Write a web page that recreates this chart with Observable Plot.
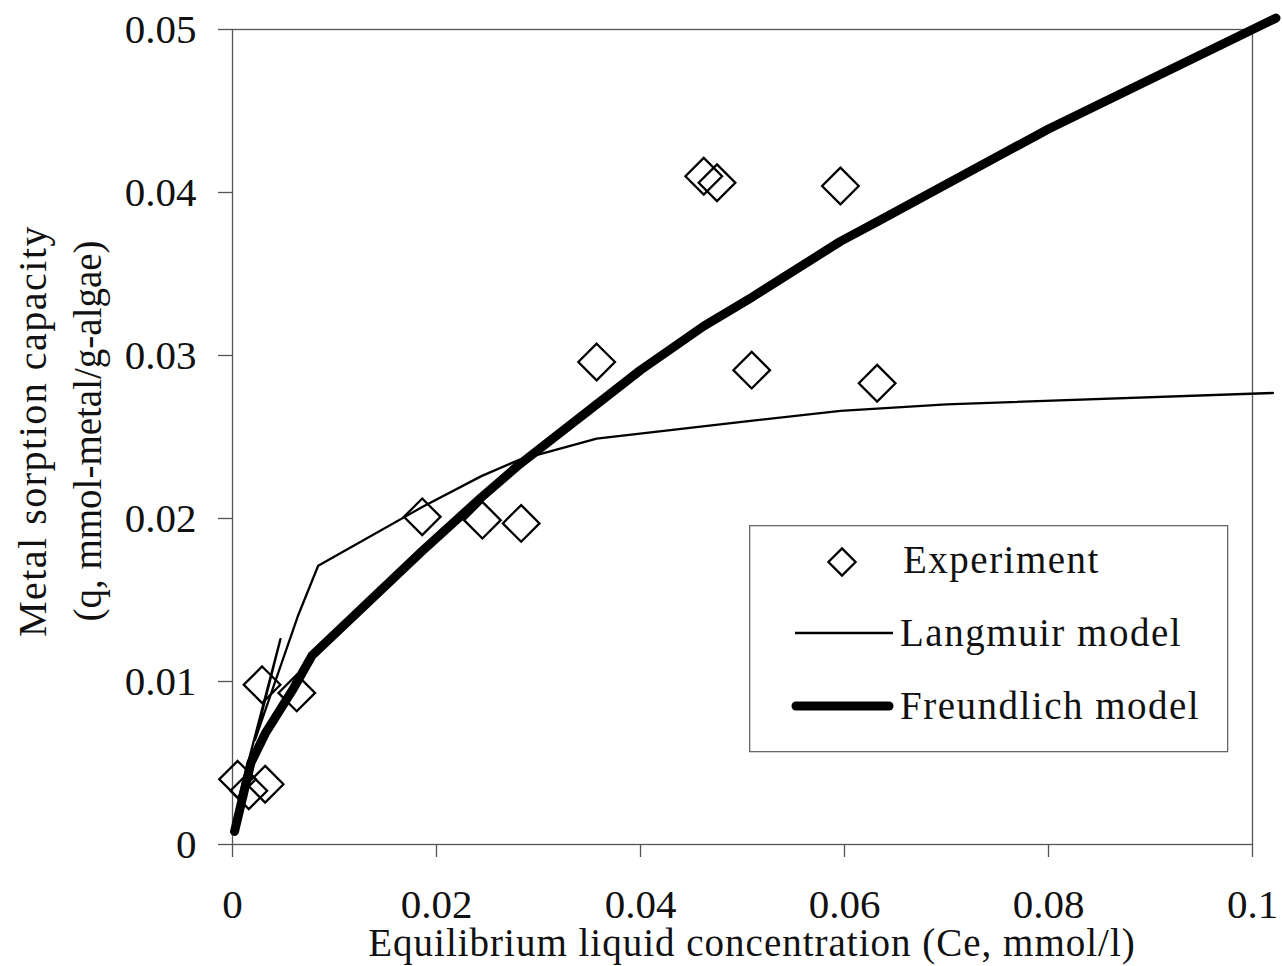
<!DOCTYPE html>
<html><head><meta charset="utf-8">
<script src="https://cdn.jsdelivr.net/npm/d3@7"></script>
<script src="https://cdn.jsdelivr.net/npm/@observablehq/plot@0.6"></script>
<style>
body{margin:0;background:#fff;}
#wrap{position:relative;width:1282px;height:966px;}
#legend{position:absolute;left:749px;top:525px;}
</style></head>
<body><div id="wrap"></div>
<script>
// Experiment (Ce, q)
const expCe = [0.0005, 0.0016, 0.0032, 0.0029, 0.0063, 0.0186, 0.0245, 0.0283, 0.0357, 0.0462, 0.0475, 0.0509, 0.0596, 0.0632];
const expQ  = [0.0040, 0.0033, 0.0037, 0.0098, 0.0093, 0.0201, 0.0199, 0.0197, 0.0296, 0.0410, 0.0406, 0.0291, 0.0404, 0.0283];
// Langmuir model polyline (in drawing order)
const langCe = [0.0006, 0.0047, 0.0022, 0.0064, 0.0084, 0.0186, 0.0244, 0.0281, 0.0357, 0.0510, 0.0596, 0.0700, 0.1020];
const langQ  = [0.0028, 0.0126, 0.0064, 0.0140, 0.0171, 0.0207, 0.0226, 0.0236, 0.0249, 0.0260, 0.0266, 0.0270, 0.0277];
// Freundlich model polyline
const frCe = [0.0002, 0.0018, 0.0032, 0.0060, 0.0078, 0.0186, 0.0244, 0.0281, 0.0357, 0.0400, 0.0462, 0.0510, 0.0596, 0.0632, 0.0800, 0.1023];
const frQ  = [0.0008, 0.0050, 0.0068, 0.0096, 0.0116, 0.0180, 0.0213, 0.0233, 0.0270, 0.0291, 0.0318, 0.0336, 0.0370, 0.0382, 0.0439, 0.0507];
const xTicks = [0, 0.02, 0.04, 0.06, 0.08, 0.1];
const yTicks = [0, 0.01, 0.02, 0.03, 0.04, 0.05];
const xTitle = "Equilibrium liquid concentration (Ce, mmol/l)";
const yTitle1 = "Metal sorption capacity";
const yTitle2 = "(q, mmol-metal/g-algae)";
const legendLabels = ["Experiment", "Langmuir model", "Freundlich model"];

const exp = expCe.map((c, i) => ({ce: c, q: expQ[i]}));
const lang = langCe.map((c, i) => ({ce: c, q: langQ[i]}));
const fr = frCe.map((c, i) => ({ce: c, q: frQ[i]}));

const FONT = "'Liberation Serif', 'Times New Roman', serif";
const chart = Plot.plot({
  width: 1282, height: 966,
  marginLeft: 232, marginRight: 30, marginTop: 29, marginBottom: 122,
  style: {fontFamily: FONT, fontSize: "41px", color: "#111", background: "#fff", overflow: "visible"},
  x: {domain: [0, 0.1]},
  y: {domain: [0, 0.05]},
  marks: [
    Plot.frame({stroke: "#555", strokeWidth: 1.3}),
    Plot.axisX({ticks: xTicks, tickSize: 13, tickPadding: 31, tickFormat: d => String(d), label: null, stroke: "#555", strokeWidth: 1.3, fill: "#111"}),
    Plot.axisY({ticks: yTicks, tickSize: 14, tickPadding: 22, tickFormat: d => String(d), label: null, stroke: "#555", strokeWidth: 1.3, fill: "#111"}),
    Plot.dot(exp, {x: "ce", y: "q", symbol: "diamond2", r: 16.5, stroke: "#000", strokeWidth: 2.3, fill: "none"}),
    Plot.line(lang, {x: "ce", y: "q", stroke: "#000", strokeWidth: 2.3, curve: "linear"}),
    Plot.line(fr, {x: "ce", y: "q", stroke: "#000", strokeWidth: 9, strokeLinecap: "round", strokeLinejoin: "round", curve: "linear"})
  ]
});
document.getElementById("wrap").appendChild(chart);

const svg = d3.select(chart);
svg.append("text").attr("x", 752).attr("y", 956).attr("text-anchor", "middle")
  .attr("font-family", FONT).attr("font-size", 39).attr("letter-spacing", 1).attr("fill", "#111").text(xTitle);
svg.append("text").attr("transform", "translate(46,431) rotate(-90)").attr("text-anchor", "middle")
  .attr("font-family", FONT).attr("font-size", 40).attr("letter-spacing", 1.5).attr("fill", "#111").text(yTitle1);
svg.append("text").attr("transform", "translate(101,431) rotate(-90)").attr("text-anchor", "middle")
  .attr("font-family", FONT).attr("font-size", 39).attr("fill", "#111").text(yTitle2);

// Legend (inset box)
const lg = d3.select("#wrap").append("svg").attr("id", "legend").attr("width", 480).attr("height", 228);
lg.append("rect").attr("x", 0.65).attr("y", 0.65).attr("width", 478).attr("height", 226)
  .attr("fill", "#fff").attr("stroke", "#666").attr("stroke-width", 1.3);
lg.append("path").attr("d", d3.symbol(d3.symbolDiamond2, Math.PI * 16.5 * 16.5 * 0.55)()).attr("transform", "translate(93,37)")
  .attr("fill", "none").attr("stroke", "#000").attr("stroke-width", 2.3);
lg.append("line").attr("x1", 46).attr("x2", 144).attr("y1", 108).attr("y2", 108).attr("stroke", "#000").attr("stroke-width", 2.3);
lg.append("line").attr("x1", 47).attr("x2", 140).attr("y1", 181).attr("y2", 181).attr("stroke", "#000").attr("stroke-width", 9).attr("stroke-linecap", "round");
const ys = [48, 121, 194];
const xs = [154, 151, 151];
legendLabels.forEach((t, i) => {
  lg.append("text").attr("x", xs[i]).attr("y", ys[i]).attr("font-family", FONT).attr("font-size", 39)
    .attr("letter-spacing", 1.5).attr("fill", "#111").text(t);
});
</script>
</body></html>
